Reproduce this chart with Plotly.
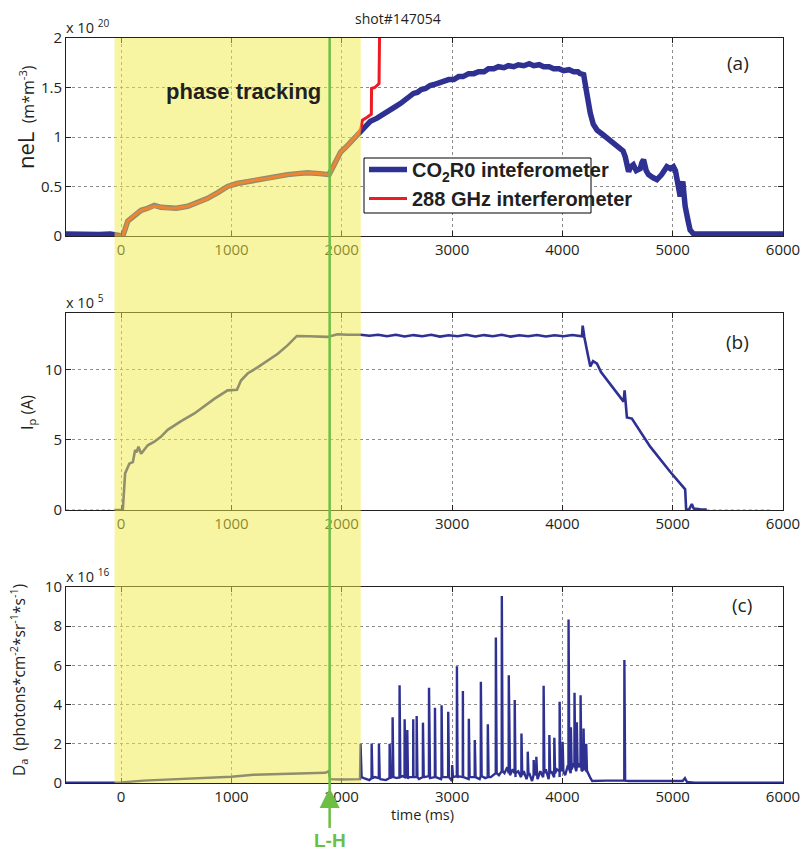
import plotly.graph_objects as go

# ---------------- data (time in ms) ----------------
# line-integrated density, units of 1e20 m^-2
ne_co2_t = [-500, -400, -300, -200, -100, -60, 15, 60, 120, 181, 240, 301, 360, 422, 500,
            603, 700, 784, 880, 965, 1050, 1146, 1240, 1327, 1420, 1508, 1600, 1689, 1800,
            1885, 1940, 1991, 2040, 2081, 2130, 2172, 2187, 2260, 2320, 2383, 2420, 2450,
            2490, 2534, 2570, 2610, 2650, 2685, 2720, 2760, 2800, 2836, 2880, 2920, 2970,
            3016, 3060, 3100, 3150, 3197, 3240, 3290, 3330, 3378, 3420, 3470, 3510, 3559,
            3600, 3650, 3700, 3740, 3790, 3830, 3880, 3921, 3970, 4010, 4060, 4102, 4140,
            4160, 4193, 4217, 4235, 4253, 4280, 4314, 4360, 4404, 4460, 4525, 4550, 4570,
            4600, 4620, 4643, 4670, 4706, 4720, 4736, 4760, 4781, 4820, 4857, 4900, 4947,
            4980, 5007, 5025, 5038, 5055, 5068, 5080, 5092, 5100, 5113, 5140, 5158, 5190,
            5300, 5500, 5700, 5900, 6000]
ne_co2 = [0.02, 0.015, 0.02, 0.015, 0.02, 0.01, 0.0, 0.15, 0.21, 0.26, 0.28, 0.31, 0.29, 0.28,
          0.28, 0.30, 0.34, 0.38, 0.44, 0.50, 0.53, 0.55, 0.57, 0.58, 0.60, 0.62, 0.63, 0.64,
          0.63, 0.62, 0.74, 0.85, 0.90, 0.95, 1.01, 1.07, 1.09, 1.16, 1.19, 1.24, 1.26, 1.29,
          1.31, 1.34, 1.37, 1.40, 1.44, 1.45, 1.48, 1.49, 1.52, 1.53, 1.55, 1.56, 1.58,
          1.58, 1.61, 1.61, 1.64, 1.64, 1.66, 1.66, 1.69, 1.69, 1.71, 1.70, 1.72, 1.71,
          1.73, 1.72, 1.74, 1.72, 1.73, 1.71, 1.71, 1.69, 1.69, 1.67, 1.68, 1.66, 1.66,
          1.64, 1.63, 1.47, 1.33, 1.24, 1.13, 1.07, 1.03, 0.99, 0.95, 0.89, 0.86, 0.80,
          0.65, 0.70, 0.72, 0.66, 0.68, 0.74, 0.77, 0.66, 0.62, 0.59, 0.57, 0.62, 0.70,
          0.68, 0.70, 0.66, 0.55, 0.45, 0.40, 0.50, 0.55, 0.45, 0.30, 0.15, 0.06, 0.02,
          0.02, 0.02, 0.02, 0.02, 0.02]

ne_288_t = [-60, 15, 60, 120, 181, 240, 301, 360, 422, 500, 603, 700, 784, 880, 965, 1050,
            1146, 1240, 1327, 1420, 1508, 1600, 1689, 1800, 1885, 1940, 1991, 2040, 2081,
            2130, 2172, 2187, 2230, 2268, 2270, 2300, 2338, 2345]
ne_288 = [0.0, 0.0, 0.15, 0.21, 0.26, 0.28, 0.30, 0.29, 0.28, 0.28, 0.30, 0.34, 0.38, 0.44,
          0.50, 0.53, 0.55, 0.57, 0.58, 0.60, 0.62, 0.63, 0.64, 0.63, 0.62, 0.74, 0.85, 0.90,
          0.95, 1.01, 1.08, 1.17, 1.20, 1.23, 1.49, 1.50, 1.54, 2.30]

# plasma current, units of 1e5 A
ip_t = [-60, 15, 36, 75, 106, 127, 140, 157, 181, 210, 241, 301, 360, 422, 540, 664, 760, 844,
        965, 1050, 1086, 1146, 1240, 1327, 1420, 1508, 1560, 1593, 1700, 1870, 1961, 2050,
        2172, 2250, 2330, 2410, 2490, 2570, 2650, 2730, 2810, 2890, 2970, 3050, 3130, 3210,
        3290, 3370, 3450, 3530, 3610, 3690, 3770, 3850, 3930, 4010, 4090, 4150, 4178, 4184,
        4199, 4229, 4253, 4278, 4314, 4350, 4450, 4555, 4564, 4573, 4585, 4630, 4796, 4977,
        5113, 5122, 5150, 5173, 5190, 5250, 5309]
ip = [0.0, 0.0, 2.6, 3.3, 3.4, 4.26, 4.1, 4.5, 4.0, 4.3, 4.6, 4.85, 5.2, 5.7, 6.3, 6.86, 7.4,
      7.9, 8.5, 8.55, 9.2, 9.7, 10.15, 10.6, 11.1, 11.7, 12.1, 12.37, 12.35, 12.3, 12.49,
      12.45, 12.45, 12.38, 12.45, 12.35, 12.45, 12.33, 12.43, 12.35, 12.45, 12.32, 12.42,
      12.35, 12.45, 12.33, 12.43, 12.35, 12.45, 12.32, 12.42, 12.35, 12.44, 12.33, 12.42,
      12.35, 12.44, 12.35, 12.35, 13.1, 12.3, 11.1, 10.2, 10.58, 10.4, 9.8, 8.75, 7.7, 8.5,
      7.6, 6.58, 6.5, 4.5, 2.72, 1.47, 0.03, 0.05, 0.43, 0.1, 0.05, 0.03]
ip_pre_t = [-500, -100]
ip_pre = [0.0, 0.0]
ip_post_t = [5309, 5900]
ip_post = [0.0, 0.0]

# D-alpha emission, units of 1e16 photons cm^-2 sr^-1 s^-1
da_base_t = [-500, -60, 0, 200, 500, 800, 1000, 1200, 1500, 1700, 1850, 1880, 1895, 2000,
             2100, 2165, 2170, 2180, 2200, 2250, 2300, 2350, 2400, 2450, 2500, 2550, 2600,
             2650, 2700, 2750, 2800, 2850, 2900, 2950, 3000, 3050, 3100, 3150, 3200, 3250,
             3300, 3350, 3400, 3425, 3450, 3475, 3500, 3525, 3550, 3575, 3600, 3625, 3650,
             3675, 3700, 3725, 3750, 3775, 3800, 3825, 3850, 3875, 3900, 3925, 3950, 3975,
             4000, 4025, 4050, 4075, 4100, 4125, 4150, 4175, 4200, 4225, 4250, 4270, 4400,
             4500, 4550, 4600, 4800, 5000, 5090, 5111, 5130, 5200, 6000]
da_base = [0.02, 0.02, 0.03, 0.12, 0.2, 0.28, 0.32, 0.42, 0.45, 0.48, 0.52, 0.6, 0.2, 0.18,
           0.2, 0.2, 2.0, 0.3, 0.25, 0.15, 0.3, 0.2, 0.15, 0.3, 0.25, 0.35, 0.2, 0.3, 0.2,
           0.3, 0.25, 0.35, 0.2, 0.3, 0.1, 0.25, 0.3, 0.2, 0.3, 0.2, 0.25, 0.3, 0.8, 0.4, 0.9,
           0.5, 0.8, 0.4, 0.7, 0.3, 0.6, 0.3, 0.6, 0.2, 0.5, 0.1, 0.5, 0.2, 0.6, 0.3, 0.7, 0.2,
           0.6, 0.3, 0.7, 0.3, 0.8, 0.4, 0.9, 0.5, 1.0, 0.6, 1.0, 0.6, 0.9, 0.6, 0.3, 0.1,
           0.12, 0.1, 0.12, 0.1, 0.1, 0.08, 0.1, 0.25, 0.05, 0.02, 0.02]

# ELM bursts: onset time, peak and the level the trace relaxes to
elm_t = [2271, 2337, 2434, 2461, 2524, 2570, 2594, 2648, 2679, 2736, 2791, 2845, 2905, 2965,
         3001, 3044, 3098, 3152, 3206, 3261, 3324, 3397, 3451, 3514, 3568, 3629, 3686, 3740,
         3764, 3830, 3882, 3927, 3975, 4002, 4056, 4077, 4110, 4131, 4165, 4192, 4216, 4562]
elm_peak = [2.02, 2.0, 2.0, 3.35, 4.99, 3.25, 2.7, 3.25, 3.42, 3.08, 4.86, 3.84, 3.97, 3.63,
            0.92, 5.96, 4.69, 3.28, 2.19, 5.16, 3.0, 7.42, 9.54, 5.5, 4.23, 2.53, 1.6, 1.17,
            1.34, 4.96, 2.45, 2.31, 4.14, 2.1, 8.34, 2.84, 4.6, 3.1, 4.48, 2.78, 2.0, 6.27]
elm_floor = [0.25, 0.25, 0.25, 0.3, 0.3, 0.3, 0.3, 0.3, 0.3, 0.3, 0.35, 0.3, 0.3, 0.3, 0.3,
             0.35, 0.3, 0.3, 0.3, 0.35, 0.3, 0.5, 0.6, 0.5, 0.5, 0.4, 0.4, 0.4, 0.4, 0.5, 0.5,
             0.5, 0.6, 0.6, 0.7, 0.7, 0.8, 0.8, 0.8, 0.7, 0.6, 0.12]

x_ticks = [0, 1000, 2000, 3000, 4000, 5000, 6000]
ne_ticks = [0, 0.5, 1, 1.5, 2]
ne_ticktext = ["0", "0.5", "1", "1.5", "2"]
ip_ticks = [0, 5, 10]
da_ticks = [0, 2, 4, 6, 8, 10]

T_LH = 1890
PHASE_T0, PHASE_T1 = -60, 2172

# ---------------- styling ----------------
BLUE = "#2E3192"
RED = "#ED1C24"
GREEN = "#6CBE45"
INK = "#231F20"
AX_FONT = "Open Sans, Noto Sans, sans-serif"
BOLD_FONT = "Liberation Sans, Arial, sans-serif"

# assemble the D-alpha trace: baseline plus sharp ELM bursts
pts = list(zip(da_base_t, da_base))
for t, p, f in zip(elm_t, elm_peak, elm_floor):
    pts += [(t - 1, f), (t, p), (t + 7, f)]
pts.sort()
da_t = [p[0] for p in pts]
da = [p[1] for p in pts]

fig = go.Figure()

fig.add_trace(go.Scatter(x=ne_co2_t, y=ne_co2, mode="lines", xaxis="x", yaxis="y",
                         line=dict(color=BLUE, width=5.5), name="CO<sub>2</sub>R0 inteferometer",
                         legendgroup="a"))
fig.add_trace(go.Scatter(x=ne_288_t, y=ne_288, mode="lines", xaxis="x", yaxis="y",
                         line=dict(color=RED, width=3), name="288 GHz interferometer",
                         legendgroup="b"))
fig.add_trace(go.Scatter(x=ip_pre_t, y=ip_pre, mode="lines", xaxis="x2", yaxis="y2",
                         line=dict(color=BLUE, width=1, dash="dot"), opacity=0.6,
                         showlegend=False))
fig.add_trace(go.Scatter(x=ip_post_t, y=ip_post, mode="lines", xaxis="x2", yaxis="y2",
                         line=dict(color=BLUE, width=1, dash="dot"), opacity=0.6,
                         showlegend=False))
fig.add_trace(go.Scatter(x=ip_t, y=ip, mode="lines", xaxis="x2", yaxis="y2",
                         line=dict(color=BLUE, width=2.6), showlegend=False))
fig.add_trace(go.Scatter(x=da_t, y=da, mode="lines", xaxis="x3", yaxis="y3",
                         line=dict(color=BLUE, width=2.4), showlegend=False))

# plot area: x 66..783 px, y 38..783 px
H = 745.0
def py(p):
    return (783 - p) / H

def px(p):
    return (p - 66) / 717.0

dom_a = [py(236), 1.0]
dom_b = [py(510), py(313)]
dom_c = [0.0, py(587)]

axis_common = dict(showline=True, linecolor=INK, linewidth=1, mirror="ticks",
                   ticks="inside", ticklen=5, tickcolor=INK, showgrid=True,
                   gridcolor="#8c8c8c", griddash="dot", gridwidth=1, zeroline=False,
                   automargin=False, ticklabeloverflow="allow",
                   tickfont=dict(family=AX_FONT, size=15, color=INK))

xcommon = dict(axis_common, range=[-500, 6000], tickvals=x_ticks)
fig.update_layout(
    xaxis=dict(xcommon, anchor="y"),
    xaxis2=dict(xcommon, anchor="y2", matches="x"),
    xaxis3=dict(xcommon, anchor="y3", matches="x"),
    yaxis=dict(axis_common, domain=dom_a, range=[0, 2], tickvals=ne_ticks,
               ticktext=ne_ticktext, anchor="x"),
    yaxis2=dict(axis_common, domain=dom_b, range=[0, 14], tickvals=ip_ticks, anchor="x2"),
    yaxis3=dict(axis_common, domain=dom_c, range=[0, 10], tickvals=da_ticks, anchor="x3"),
)

# legend frame (the legend text itself runs past the frame on the right)
fig.add_shape(type="rect", xref="paper", yref="paper", x0=px(364), x1=px(591),
              y0=py(213), y1=py(158), fillcolor="white", line=dict(color="#000000", width=1),
              layer="above")
# phase-tracking window (semi-transparent, drawn over everything) and L-H time
fig.add_shape(type="rect", xref="x3", yref="paper", x0=PHASE_T0, x1=PHASE_T1, y0=0, y1=1,
              fillcolor="rgb(242,236,70)", opacity=0.5, line=dict(width=0), layer="above")
fig.add_shape(type="line", xref="x3", yref="paper", x0=T_LH, x1=T_LH, y0=1, y1=py(790),
              line=dict(color=GREEN, width=2.5), layer="above")

ann = []
def text(x, y, s, size=14, xanchor="center", yanchor="middle", color=INK, family=AX_FONT,
         angle=0, weight="normal"):
    ann.append(dict(x=x, y=y, xref="paper", yref="paper", text=s, showarrow=False,
                    xanchor=xanchor, yanchor=yanchor, textangle=angle,
                    font=dict(size=size, color=color, family=family, weight=weight)))

text(px(398), py(18), "shot#147054", size=14)
text(px(64), py(26), "x 10 <sup>20</sup>", size=14.5, xanchor="left")
text(px(64), py(301), "x 10 <sup>5</sup>", size=14.5, xanchor="left")
text(px(64), py(575), "x 10 <sup>16</sup>", size=14.5, xanchor="left")
text(px(738), py(63), "(a)", size=19)
text(px(737), py(342), "(b)", size=19)
text(px(742), py(605), "(c)", size=19)
text(px(243), py(91), "phase tracking", size=22, family=BOLD_FONT, weight="bold")
text(px(25), py(117), "<span style='font-size:22px'>neL</span>&nbsp;&nbsp;(m*m<sup>-3</sup>)",
     size=16, angle=-90)
text(px(27), py(413), "I<sub>p</sub> (A)", size=16, angle=-90)
text(px(18), py(680),
     "D<sub>a</sub>&nbsp;&nbsp;(photons*cm<sup>-2</sup>*sr<sup>-1</sup>*s<sup>-1</sup>)",
     size=15.5, angle=-90)
text(px(422), py(815), "time (ms)", size=14.5)

# L-H marker arrow
ann.append(dict(x=T_LH, y=py(788), xref="x3", yref="paper", text="L-H", showarrow=True,
                ax=0, ay=52, arrowhead=2, arrowwidth=2.5, arrowsize=1.6, arrowcolor=GREEN,
                font=dict(size=19, color=GREEN, family=BOLD_FONT, weight="bold")))

fig.update_layout(
    annotations=ann,
    width=800, height=854,
    autosize=False,
    margin=dict(l=66, r=17, t=38, b=71, autoexpand=False),
    paper_bgcolor="white", plot_bgcolor="white",
    showlegend=True,
    legend=dict(x=px(364), y=py(150), xref="paper", yref="paper", xanchor="left",
                yanchor="top", bgcolor="rgba(0,0,0,0)", borderwidth=0, itemwidth=38,
                font=dict(family=BOLD_FONT, size=20, color=INK, weight="bold"),
                tracegroupgap=0),
)

fig.write_html("out.html")
